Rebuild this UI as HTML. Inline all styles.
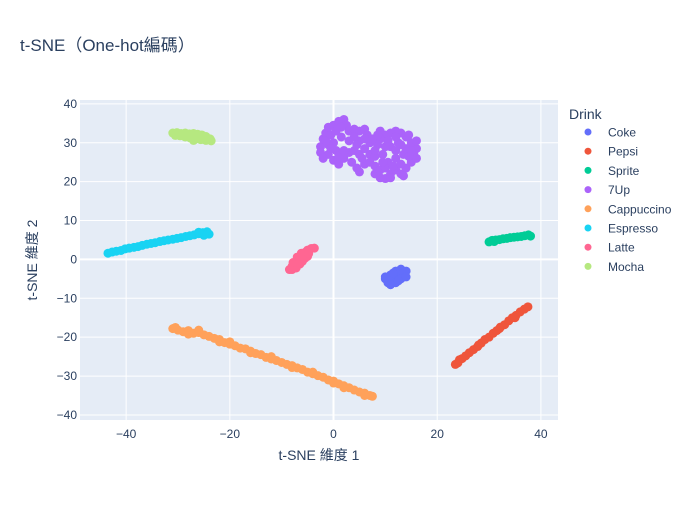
<!DOCTYPE html>
<html><head><meta charset="utf-8"><style>
body{margin:0;background:#fff;}
svg text{font-family:"Liberation Sans","Noto Sans CJK TC",sans-serif;}
</style></head><body>
<svg id="chart" width="700" height="500" xmlns="http://www.w3.org/2000/svg">
<rect width="700" height="500" fill="#fff"/>
<text x="20" y="51" font-size="17" fill="#2a3f5f">t-SNE（One-hot編碼）</text>
<rect x="80" y="100" width="478" height="320" fill="#E5ECF6"/>
<g id="grid"></g><g id="marks"></g><g id="ticks"></g>
<text x="319" y="460" font-size="14" fill="#2a3f5f" text-anchor="middle">t-SNE 維度 1</text>
<text transform="translate(37,260) rotate(-90)" font-size="14" fill="#2a3f5f" text-anchor="middle">t-SNE 維度 2</text>
<g id="legend">
<text x="569" y="119" font-size="14" fill="#2a3f5f">Drink</text>
</g>
</svg>
<script>
const drinks=["Coke","Pepsi","Sprite","7Up","Cappuccino","Espresso","Latte","Mocha"];
const colors=["#636efa","#EF553B","#00cc96","#ab63fa","#FFA15A","#19d3f3","#FF6692","#B6E880"];
const xTicks=[-40,-20,0,20,40];
const yTicks=[-40,-30,-20,-10,0,10,20,30,40];
const cokePts=[[10,-5],[10.5,-6],[11,-4],[11.5,-5],[12,-3],[12.5,-4],[13,-2.5],[13.5,-3.5],[14,-3],[12,-6],[11,-6.5],[13,-5],[14,-4.5],[10,-4.5],[12.5,-5.5],[11.5,-3.5]];
const pepsiPts=[[23.5,-27],[24,-26.6],[24.8,-25.5],[25.5,-24.8],[26.2,-24],[27,-23.2],[27.8,-22.4],[28.5,-21.5],[29.2,-20.6],[30,-20],[30.8,-19],[31.5,-18.3],[32.2,-17.4],[33,-16.8],[33.8,-15.8],[34.5,-15],[35.2,-14.4],[36,-13.5],[36.8,-12.8],[37.5,-12.2],[24.3,-25.8],[28,-22],[32,-17.8],[35,-15]];
const spritePts=[[30,4.5],[30.6,4.9],[31.3,5.0],[32,5.1],[32.7,5.3],[33.4,5.4],[34.1,5.6],[34.8,5.7],[35.5,5.8],[36.2,5.9],[36.9,6.1],[37.6,6.3],[38,6.0],[31,4.6]];
const upPts=[[-2.5,29],[-2.5,27.5],[-2,31],[-1.5,32.5],[-1,34],[0,34.5],[1,35.5],[2,36],[2.5,34.5],[3,33],[4,33.5],[5,33],[6,33.5],[6.5,32],[-1,27],[0,25.5],[1,24.5],[2,26],[3,27.5],[4,28],[5,27],[6,28.5],[7,30],[7,27],[0,30],[1.5,31.5],[3,30.5],[-1,29.5],[0.5,28],[5,30.5],[8,24],[8,22],[9,21],[10,20.8],[11,22],[12,23],[13,22],[14,23.5],[15,25],[15.5,27],[16,28.5],[15,30],[14,31.5],[13,32.5],[12,33],[11,32.5],[10,32],[9,31],[8.5,29.5],[9.5,27],[10.5,25],[12,26],[13.5,27],[11,29],[12.5,30],[14,28.5],[10,29],[8,26.5],[7.5,31],[9,33],[16,26],[6,24.5],[5,22.5],[4.5,23.5],
[-1.5,30.5],[-0.5,32],[0.5,33],[1.5,34],[-0.5,28.5],[1,26.5],[2,28],[4,31.5],[4.5,29.5],[6,31],[5.5,26],[3.5,25],[-2,26],[9,23],[10,23.5],[11.5,24],[13,24.5],[14.5,26.5],[15,28],[13,29.5],[12,31.5],[10.5,30.5],[9.5,25],[8,28],[7,25],[14.5,32],[16,30.5],[11,21],[13.5,21.5],[12,28],[8.5,32]];
const cappPts=[[-31,-17.8],[-30,-18.2],[-29,-18.6],[-28,-18.3],[-27,-19],[-26,-18.8],[-25,-19.4],[-24,-19.8],[-23,-20.3],[-22,-20.6],[-21,-21.4],[-20,-21.8],[-19,-22.2],[-18,-22.8],[-17,-23.0],[-16,-23.6],[-15,-24.2],[-14,-24.5],[-13,-25.2],[-12,-25.6],[-11,-26],[-10,-26.5],[-9,-27],[-8,-27.3],[-7,-27.9],[-6,-28.3],[-5,-29],[-4,-29.4],[-3,-29.9],[-2,-30.3],[-1,-31],[0,-31.3],[1,-32],[2,-32.5],[3,-33],[4,-33.6],[5,-34.1],[6,-34.4],[7,-35],[7.5,-35.2],[-30.5,-17.5],[-26,-18.2],[-20,-21.2],[-12,-25.0],[-4,-29],[2,-33],[6,-35],[-28,-19.2],[-22,-21.2],[-16,-24],[-8,-27.8],[0,-31.8]];
const espPts=[[-43.5,1.6],[-42.7,1.9],[-41.9,2.1],[-41,2.3],[-40.2,2.7],[-39.4,2.9],[-38.5,3.1],[-37.7,3.3],[-36.9,3.6],[-36,3.9],[-35.2,4.1],[-34.4,4.3],[-33.5,4.6],[-32.7,4.8],[-31.9,5.0],[-31,5.2],[-30.2,5.4],[-29.4,5.6],[-28.5,5.9],[-27.7,6.1],[-26.9,6.3],[-26,6.6],[-25.2,6.9],[-24.4,7.1],[-24,6.5],[-25,6.2],[-26,7.0]];
const lattePts=[[-8.5,-2.6],[-8,-1.8],[-7.5,-1],[-7,-0.2],[-6.5,0.5],[-6,1.2],[-5.5,1.8],[-5,2.4],[-4.3,2.8],[-3.7,2.9],[-8,-2.6],[-7.2,-2.2],[-6.5,-1.2],[-6,-0.5],[-5.5,0.3],[-5,0.8],[-7.8,-0.8],[-7,0.6],[-6.2,1.6],[-4.8,1.5],[-6,0],[-7,-1.3]];
const mochaPts=[[-31,32.5],[-30.2,32.6],[-29.4,32.4],[-28.6,32.5],[-27.8,32.3],[-27,32.4],[-26.2,32.2],[-25.4,32],[-24.6,31.6],[-23.8,31.0],[-30.5,31.9],[-29.6,31.8],[-28.6,31.5],[-27.6,31.2],[-26.6,31.0],[-25.6,30.8],[-24.6,30.6],[-23.6,30.5],[-27,30.6],[-26,31.6],[-25,31.2]];
const series=[cokePts,pepsiPts,spritePts,upPts,cappPts,espPts,lattePts,mochaPts];

const X0=80,X1=558,Y0=100,Y1=420,xmin=-48.9,xmax=43.3,ymin=-41.3,ymax=41.0;
const sx=v=>X0+(v-xmin)/(xmax-xmin)*(X1-X0);
const sy=v=>Y1-(v-ymin)/(ymax-ymin)*(Y1-Y0);
const NS="http://www.w3.org/2000/svg";
function mk(tag,attrs,parent){const e=document.createElementNS(NS,tag);for(const k in attrs)e.setAttribute(k,attrs[k]);parent.appendChild(e);return e;}
const grid=document.getElementById('grid'),marks=document.getElementById('marks'),ticks=document.getElementById('ticks'),legend=document.getElementById('legend');
xTicks.forEach(t=>{
  const l=mk('line',{x1:sx(t),x2:sx(t),y1:Y0,y2:Y1,stroke:'#fff','stroke-width':t===0?2:1},grid);
  
  
  const tx=mk('text',{x:sx(t),y:Y1+18,'font-size':12,fill:'#2a3f5f','text-anchor':'middle'},ticks);
  tx.textContent=(t<0?'−'+(-t):t);
  
  
});
yTicks.forEach(t=>{
  const l=mk('line',{x1:X0,x2:X1,y1:sy(t),y2:sy(t),stroke:'#fff','stroke-width':t===0?2:1},grid);
  
  
  const tx=mk('text',{x:X0-3,y:sy(t)+4,'font-size':12,fill:'#2a3f5f','text-anchor':'end'},ticks);
  tx.textContent=(t<0?'−'+(-t):t);
  
  
});
series.forEach((pts,i)=>{
  const g=mk('g',{fill:colors[i]},marks);
  
  
  pts.forEach(p=>{
    const c=mk('circle',{cx:sx(p[0]),cy:sy(p[1]),r:4.5},g);
    
    
  });
  const ly=132+i*19.2;
  const lg=mk('g',{},legend);
  
  
  mk('circle',{cx:588,cy:ly,r:3.5,fill:colors[i]},lg);
  const t=mk('text',{x:608,y:ly+4.5,'font-size':12,fill:'#2a3f5f'},lg);
  t.textContent=drinks[i];
});
</script>
</body></html>
